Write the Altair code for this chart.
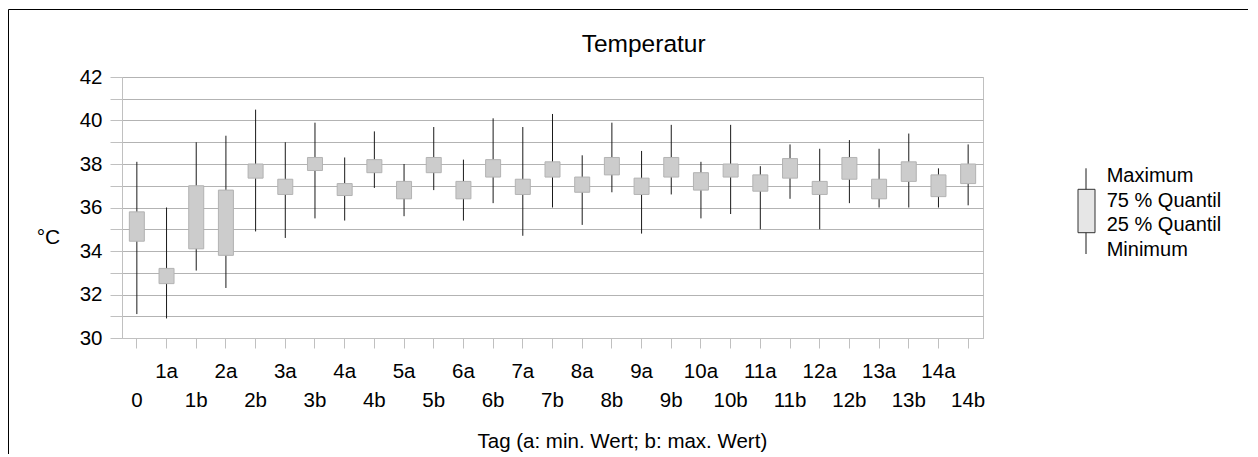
import altair as alt
import pandas as pd

tags = ["0", "1a", "1b", "2a", "2b", "3a", "3b", "4a", "4b", "5a", "5b", "6a", "6b",
        "7a", "7b", "8a", "8b", "9a", "9b", "10a", "10b", "11a", "11b", "12a", "12b",
        "13a", "13b", "14a", "14b"]
t_max = [38.1, 36.0, 39.0, 39.3, 40.5, 39.0, 39.9, 38.3, 39.5, 38.0, 39.7, 38.2, 40.1,
         39.7, 40.3, 38.4, 39.9, 38.6, 39.8, 38.1, 39.8, 37.9, 38.9, 38.7, 39.1,
         38.7, 39.4, 37.8, 38.9]
t_q3 = [35.8, 33.2, 37.0, 36.8, 38.0, 37.3, 38.3, 37.1, 38.2, 37.2, 38.3, 37.2, 38.2,
        37.3, 38.1, 37.4, 38.3, 37.35, 38.3, 37.6, 38.0, 37.5, 38.25, 37.2, 38.3,
        37.3, 38.1, 37.5, 38.0]
t_q1 = [34.45, 32.5, 34.1, 33.8, 37.35, 36.6, 37.7, 36.55, 37.6, 36.4, 37.6, 36.4, 37.4,
        36.6, 37.4, 36.7, 37.5, 36.6, 37.4, 36.8, 37.4, 36.75, 37.35, 36.6, 37.3,
        36.4, 37.2, 36.5, 37.1]
t_min = [31.1, 30.9, 33.1, 32.3, 34.9, 34.6, 35.5, 35.4, 36.9, 35.6, 36.8, 35.4, 36.2,
         34.7, 36.0, 35.2, 36.7, 34.8, 36.6, 35.5, 35.7, 35.0, 36.4, 35.0, 36.2,
         36.0, 36.0, 36.0, 36.1]
y_ticks = list(range(30, 43))
legend_labels = ["Maximum", "75 % Quantil", "25 % Quantil", "Minimum"]
title_text = "Temperatur"
x_title = "Tag (a: min. Wert; b: max. Wert)"
y_title = "°C"

df = pd.DataFrame({"tag": tags, "tmin": t_min, "q1": t_q1, "q3": t_q3, "tmax": t_max})
df["row"] = ["a" if t.endswith("a") else "b" for t in tags]

FONT = "Liberation Sans"
GRID = "#b3b3b3"
EDGE = "#c0c0c0"
FS = 20.5

xaxis = alt.Axis(labels=False, ticks=True, tickSize=10, tickColor=EDGE, domainColor=EDGE,
                 grid=False, title=x_title, titleX=355, titleY=109, titleAlign="left",
                 titleBaseline="alphabetic", titleFontSize=FS, titleFontWeight="normal",
                 titleColor="black", titleFont=FONT)
yaxis = alt.Axis(values=y_ticks, labelExpr="datum.value % 2 == 0 ? datum.label : ''",
                 tickSize=12, tickColor=EDGE, domainColor=EDGE, grid=True, gridColor=GRID,
                 labelFontSize=FS, labelPadding=8, labelColor="black", labelFont=FONT,
                 labelOverlap=False, title=y_title, titleAngle=0, titleX=-74, titleY=166,
                 titleAlign="center", titleBaseline="alphabetic", titleFontSize=21,
                 titleFontWeight="normal", titleColor="black", titleFont=FONT)
xscale = alt.Scale(domain=tags, paddingInner=0, paddingOuter=0)
yscale = alt.Scale(domain=[30, 42], nice=False, zero=False)


def X():
    return alt.X("tag:N", sort=tags, scale=xscale, axis=xaxis)


def Y(f):
    return alt.Y(f + ":Q", scale=yscale, axis=yaxis)


base = alt.Chart(df)

frame = alt.Chart(pd.DataFrame({"k": [0]})).mark_rect(
    fill="transparent", stroke="black", strokeWidth=1
).encode(x=alt.value(-113.5), x2=alt.value(1300), y=alt.value(-67.5), y2=alt.value(500))

whisk = base.mark_rule(color="#1a1a1a", strokeWidth=1).encode(x=X(), y=Y("tmin"), y2="tmax:Q")
box = base.mark_bar(size=15, fill="#cccccc", stroke="#b3b3b3", strokeWidth=1).encode(
    x=X(), y=Y("q1"), y2="q3:Q")

lab_a = base.transform_filter("datum.row == 'a'").mark_text(
    font=FONT, fontSize=FS, align="center", baseline="alphabetic", color="black"
).encode(x=X(), y=alt.value(301), text="tag:N")
lab_b = base.transform_filter("datum.row == 'b'").mark_text(
    font=FONT, fontSize=FS, align="center", baseline="alphabetic", color="black"
).encode(x=X(), y=alt.value(330), text="tag:N")

title = alt.Chart(pd.DataFrame({"t": [title_text]})).mark_text(
    font=FONT, fontSize=24.5, align="left", baseline="alphabetic", color="black"
).encode(x=alt.value(459.7), y=alt.value(-25.3), text="t:N")

one = pd.DataFrame({"k": [0]})
leg_rule = alt.Chart(one).mark_rule(color="#1a1a1a", strokeWidth=1).encode(
    x=alt.value(964), y=alt.value(91.3), y2=alt.value(177))
leg_box = alt.Chart(one).mark_rect(fill="#e6e6e6", stroke="#333333", strokeWidth=1).encode(
    x=alt.value(956), x2=alt.value(973), y=alt.value(112.3), y2=alt.value(155.7))
leg_texts = [
    alt.Chart(pd.DataFrame({"label": [lab]})).mark_text(
        font=FONT, fontSize=20, align="left", baseline="alphabetic", color="black"
    ).encode(x=alt.value(984.7), y=alt.value(104.7 + 24.8 * i), text="label:N")
    for i, lab in enumerate(legend_labels)
]

chart = alt.layer(
    frame, whisk, box, lab_a, lab_b, title, leg_rule, leg_box, *leg_texts
).properties(
    width=861, height=261,
    padding={"left": 114, "top": 69, "right": 265, "bottom": 116},
    autosize=alt.AutoSizeParams(type="none"),
).configure_view(stroke=EDGE, strokeWidth=1)

chart.save("out.html", embed_options={"renderer": "svg", "actions": False})
